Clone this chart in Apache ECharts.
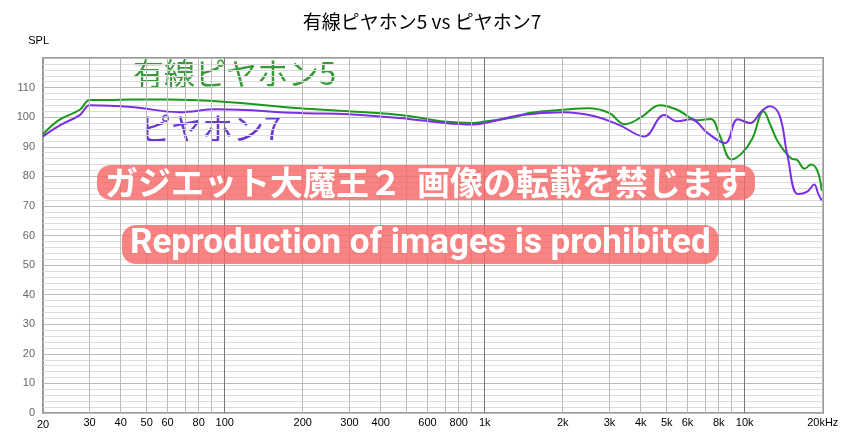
<!DOCTYPE html>
<html><head><meta charset="utf-8">
<script src="https://cdn.jsdelivr.net/npm/echarts@6/dist/echarts.min.js"></script>
<style>html,body{margin:0;padding:0;background:#fff}#c{width:844px;height:439px}</style>
</head><body><div id="c"></div>
<script>
const title = '有線ピヤホン5 vs ピヤホン7';
const freqTicks = [20,30,40,50,60,70,80,90,100,200,300,400,500,600,700,800,900,1000,2000,3000,4000,5000,6000,7000,8000,9000,10000,20000];
const freqLabels = {30:'30',40:'40',50:'50',60:'60',80:'80',100:'100',200:'200',300:'300',400:'400',600:'600',800:'800',1000:'1k',2000:'2k',3000:'3k',4000:'4k',5000:'5k',6000:'6k',8000:'8k',10000:'10k',20000:'20kHz'};
const greenFreq = [20,23,27.7,30.3,35,44,60,93,195,300,500,700,900,1000,1300,1500,2000,2500,3000,3460,4000,4720,5500,6600,7400,8000,8900,9800,10700,11800,12600,13400,15100,15900,17000,18000,19000,19800];
const greenDb   = [94.2,99,102.5,105.8,105.8,106,106,105.4,103,102,100.5,98.5,98,98.5,100,101.5,102.5,103,101.5,97.6,100,104,102.5,99,99.4,94,85.7,88,92.8,102,97,91.8,86,85.5,82.6,84,82,75];
const purpleFreq = [20,23.3,27.7,30.3,44,67,93,195,300,500,700,900,1000,1380,2000,2600,3300,4100,4900,5500,6200,7200,8400,9400,10500,11600,12500,13600,14600,16000,17400,18500,19200,19800];
const purpleDb   = [93.5,97.3,100.7,104,103.4,101.7,102.7,101.4,101,99.5,98,97.5,98,100.7,101.7,100.5,97.3,93.5,100.7,98.6,99.3,94.6,91.2,99.3,98,102,103.7,100.7,87,74,74.8,77.2,74,71.8];

const L = Math.log10;
const gData = greenFreq.map((f,i)=>[L(f),greenDb[i]]);
const pData = purpleFreq.map((f,i)=>[L(f),purpleDb[i]]);
const major = [100,1000,10000];
const vlines = freqTicks.map(f=>({xAxis:L(f),
  lineStyle:{color: major.includes(f)?'#777':'#bbb', width:1, type:'solid'},
  label:{show:true, position:'start', formatter: freqLabels[f]||'', color:'#000', fontSize:11, distance:4}}));

const chart = echarts.init(document.getElementById('c'));
chart.setOption({
  animation:false,
  title:{text:title,left:'center',top:7,textStyle:{fontSize:19,fontWeight:'normal',color:'#000',fontFamily:'Noto Sans CJK JP'}},
  grid:{left:43,right:21,top:58,bottom:26,show:true,borderColor:'#999',borderWidth:2,backgroundColor:'#fff'},
  xAxis:{type:'value',min:L(20),max:L(20000),
    axisLabel:{show:true,customValues:[L(20)],formatter:()=> '20',color:'#000',fontSize:11,margin:6,showMinLabel:true},
    axisTick:{show:false},axisLine:{show:false},splitLine:{show:false}},
  yAxis:{type:'value',min:0,max:120,interval:10,name:'SPL',nameLocation:'end',nameGap:12,
    nameTextStyle:{color:'#000',fontSize:11,align:'right',padding:[0,-6,0,0]},
    axisLine:{show:false},axisTick:{show:false},
    axisLabel:{color:'#666',fontSize:11,formatter:v=>v===120?'':String(v)},
    splitLine:{lineStyle:{color:'#bbb'}},
    minorTick:{show:false,splitNumber:5},minorSplitLine:{show:true,lineStyle:{color:'#ddd'}}},
  series:[
    {type:'line',data:gData,smooth:0.4,symbol:'none',lineStyle:{color:'#1a9a1a',width:2},z:3,
      markLine:{silent:true,symbol:'none',animation:false,data:vlines}},
    {type:'line',data:pData,smooth:0.4,symbol:'none',lineStyle:{color:'#7a2ee6',width:2},z:4}
  ],
  graphic:[
    {type:'text',left:133,top:58,style:{text:'有線ピヤホン5',fontSize:31,fill:'#3a9a3a',fontFamily:'Noto Sans CJK JP'}},
    {type:'text',left:140,top:113,style:{text:'ピヤホン7',fontSize:31,fill:'#6a3acc',fontFamily:'Noto Sans CJK JP'}},
    {type:'text',left:97,top:165,z:10,style:{text:'ガジエット大魔王２  画像の転載を禁じます',fontSize:33,fontWeight:'bold',fill:'#fff',
      backgroundColor:'rgba(246,100,100,0.8)',borderRadius:14,padding:[1,8],fontFamily:'Noto Sans CJK JP'}},
    {type:'text',left:122,top:225,z:10,style:{text:'Reproduction of images is prohibited',fontSize:35,fontWeight:'bold',fill:'#fff',
      backgroundColor:'rgba(246,100,100,0.8)',borderRadius:14,padding:[2,8],fontFamily:'Roboto'}}
  ]
});
</script></body></html>
